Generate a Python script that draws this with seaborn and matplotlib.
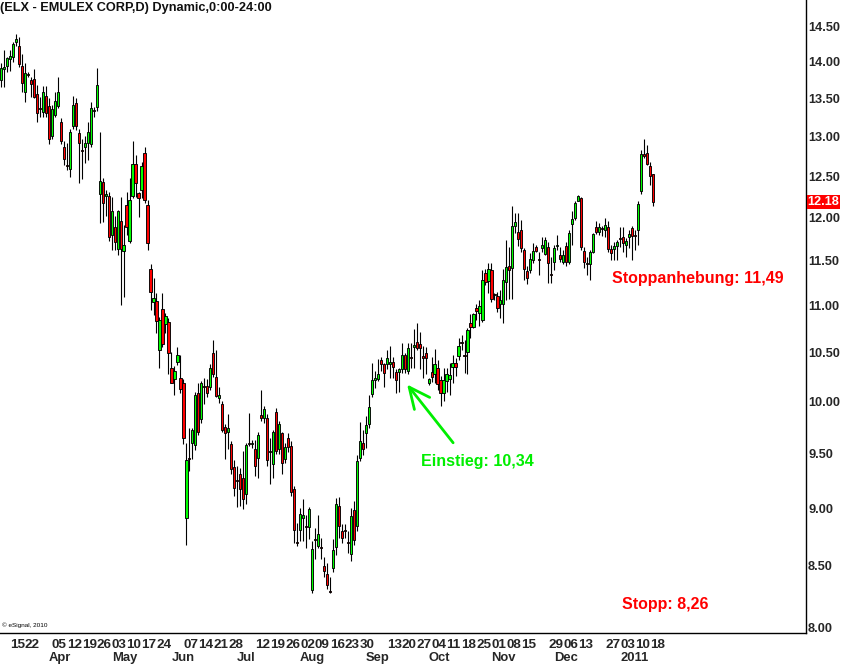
import numpy as np
import pandas as pd
import matplotlib
matplotlib.use("Agg")
import matplotlib.pyplot as plt
from matplotlib.ticker import NullLocator
import seaborn as sns

# -----------------------------
# Data (daily OHLC)
# -----------------------------
start, end = "2010-03-10", "2011-01-19"
holidays = ["2010-04-02", "2010-05-31", "2010-07-05", "2010-09-06",
            "2010-11-25", "2010-12-24", "2011-01-17"]

opens = [
    13.75, 13.89, 13.94, 14.03, 14.06, 14.27, 14.22, 13.94, 13.59, 13.83,
    13.75, 13.76, 13.55, 13.37, 13.32, 13.53, 13.40, 13.01, 13.28, 13.40,
    13.19, 12.87, 12.64, 12.59, 13.14, 13.44, 13.04, 12.82, 12.86, 12.92,
    12.90, 13.34, 13.38, 12.28, 12.42, 12.26, 12.25, 11.79, 11.89, 11.63,
    11.96, 11.61, 12.15, 11.72, 12.26, 12.65, 12.29, 12.33, 12.79, 12.15,
    11.40, 11.04, 11.05, 10.52, 10.96, 10.80, 10.82, 10.34, 10.23, 10.40,
    10.24, 10.18, 8.91, 9.46, 9.60, 9.58, 10.08, 9.83, 10.15, 10.15,
    10.14, 10.49, 10.25, 10.03, 9.98, 9.75, 9.70, 9.59, 9.37, 9.25,
    9.31, 9.27, 9.13, 9.60, 9.59, 9.54, 9.46, 9.87, 9.84, 9.84,
    9.52, 9.40, 9.90, 9.54, 9.69, 9.45, 9.65, 9.57, 9.17, 8.70,
    8.81, 8.91, 8.84, 8.83, 8.30, 8.73, 8.67, 8.66, 8.50, 8.43,
    8.29, 8.48, 8.66, 9.02, 8.80, 8.81, 8.70, 8.60, 8.98, 8.84,
    9.46, 9.60, 9.69, 9.78, 10.07, 10.22, 10.23, 10.42, 10.38, 10.38,
    10.38, 10.40, 10.30, 10.30, 10.33, 10.47, 10.31, 10.45, 10.55, 10.61,
    10.59, 10.46, 10.49, 10.18, 10.30, 10.28, 10.34, 10.22, 10.08, 10.21,
    10.23, 10.35, 10.39, 10.46, 10.61, 10.47, 10.50, 10.81, 10.76, 10.97,
    10.92, 10.84, 11.36, 11.27, 11.39, 11.12, 11.10, 11.01, 11.01, 11.25,
    11.44, 11.41, 11.90, 11.83, 11.85, 11.62, 11.38, 11.39, 11.50, 11.65,
    11.51, 11.64, 11.57, 11.65, 11.34, 11.48, 11.66, 11.56, 11.48, 11.66,
    11.48, 11.92, 11.99, 12.20, 12.23, 11.61, 11.47, 11.46, 11.60, 11.89,
    11.83, 11.87, 11.85, 11.89, 11.63, 11.63, 11.66, 11.76, 11.77, 11.67,
    11.77, 11.87, 11.79, 11.85, 12.31, 12.78, 12.79, 12.63, 12.53,
]
highs = [
    13.98, 14.16, 14.06, 14.16, 14.27, 14.38, 14.34, 14.11, 13.98, 13.86,
    13.79, 13.89, 13.68, 13.52, 13.66, 13.66, 13.50, 13.41, 13.58, 13.79,
    13.24, 12.94, 12.92, 13.09, 13.53, 13.50, 13.09, 12.96, 13.00, 13.19,
    13.45, 13.38, 13.91, 13.06, 12.48, 12.33, 12.30, 12.24, 12.01, 12.09,
    12.24, 11.91, 12.30, 12.48, 12.94, 12.76, 12.30, 12.68, 12.86, 12.21,
    11.46, 11.30, 11.13, 10.87, 11.13, 10.92, 10.86, 10.50, 10.36, 10.55,
    10.47, 10.23, 9.60, 9.74, 9.74, 10.09, 10.18, 10.21, 10.24, 10.23,
    10.38, 10.63, 10.52, 10.14, 10.01, 9.78, 9.88, 9.62, 9.44, 9.38,
    9.36, 9.52, 9.60, 9.89, 9.63, 9.63, 9.70, 10.11, 9.96, 9.88,
    9.65, 9.72, 9.94, 9.81, 9.70, 9.60, 9.69, 9.62, 9.20, 8.87,
    9.00, 9.08, 8.94, 9.01, 8.71, 8.82, 8.94, 8.74, 8.57, 8.52,
    8.41, 8.73, 9.09, 9.10, 8.86, 8.86, 8.80, 9.00, 9.06, 9.48,
    9.80, 9.72, 9.86, 10.06, 10.39, 10.31, 10.43, 10.45, 10.39, 10.52,
    10.57, 10.45, 10.33, 10.34, 10.60, 10.49, 10.60, 10.60, 10.74, 10.81,
    10.71, 10.57, 10.55, 10.24, 10.45, 10.53, 10.42, 10.26, 10.34, 10.34,
    10.39, 10.47, 10.44, 10.65, 10.68, 10.63, 10.75, 10.91, 10.92, 11.01,
    11.06, 11.39, 11.40, 11.47, 11.47, 11.13, 11.14, 11.17, 11.40, 11.73,
    11.65, 12.14, 12.05, 12.05, 11.97, 11.64, 11.44, 11.58, 11.70, 11.67,
    11.59, 11.77, 11.77, 11.71, 11.54, 11.67, 11.79, 11.65, 11.62, 11.71,
    11.85, 12.07, 12.19, 12.27, 12.24, 11.65, 11.54, 11.62, 11.81, 11.95,
    11.93, 11.90, 11.99, 11.95, 11.67, 11.71, 11.73, 11.89, 11.89, 11.76,
    11.85, 11.90, 11.85, 12.19, 12.83, 12.96, 12.89, 12.68, 12.53,
]
lows = [
    13.65, 13.65, 13.85, 13.87, 13.99, 14.21, 13.92, 13.58, 13.45, 13.79,
    13.52, 13.50, 13.19, 13.25, 13.25, 13.25, 12.90, 12.96, 13.25, 13.37,
    12.90, 12.64, 12.58, 12.49, 13.09, 13.08, 12.41, 12.46, 12.66, 12.70,
    12.86, 13.25, 13.33, 11.93, 11.94, 12.01, 11.72, 11.62, 11.62, 11.56,
    11.00, 11.09, 11.79, 11.70, 12.23, 12.24, 12.00, 12.23, 12.17, 11.62,
    10.95, 10.89, 10.70, 10.34, 10.55, 10.70, 10.28, 10.18, 10.06, 10.37,
    10.08, 9.59, 8.68, 9.34, 9.45, 9.53, 9.67, 9.79, 9.98, 10.04,
    10.11, 10.25, 10.04, 9.99, 9.70, 9.45, 9.54, 9.31, 9.11, 9.01,
    9.02, 8.99, 9.04, 9.57, 9.55, 9.29, 9.27, 9.81, 9.79, 9.38,
    9.22, 9.27, 9.49, 9.49, 9.31, 9.41, 9.51, 9.11, 8.69, 8.67,
    8.71, 8.71, 8.65, 8.73, 8.27, 8.56, 8.65, 8.56, 8.41, 8.31,
    8.27, 8.45, 8.59, 8.74, 8.69, 8.74, 8.61, 8.54, 8.68, 8.80,
    9.43, 9.48, 9.55, 9.74, 10.04, 10.13, 10.21, 10.31, 10.14, 10.33,
    10.24, 10.24, 10.08, 10.09, 10.29, 10.29, 10.28, 10.34, 10.34, 10.52,
    10.33, 10.24, 10.28, 10.16, 10.20, 10.18, 10.11, 9.96, 10.01, 10.09,
    10.06, 10.18, 10.26, 10.42, 10.52, 10.29, 10.28, 10.65, 10.75, 10.84,
    10.78, 10.82, 11.22, 11.13, 11.04, 11.06, 10.93, 10.86, 10.81, 11.06,
    11.07, 11.07, 11.82, 11.66, 11.60, 11.28, 11.23, 11.36, 11.47, 11.59,
    11.33, 11.59, 11.56, 11.24, 11.24, 11.39, 11.62, 11.48, 11.46, 11.44,
    11.46, 11.67, 11.97, 12.19, 11.62, 11.41, 11.33, 11.28, 11.58, 11.80,
    11.79, 11.78, 11.77, 11.60, 11.50, 11.50, 11.50, 11.65, 11.60, 11.54,
    11.64, 11.50, 11.62, 11.67, 12.28, 12.73, 12.64, 12.39, 12.13,
]
closes = [
    13.91, 13.92, 14.05, 14.07, 14.25, 14.31, 13.96, 13.71, 13.84, 13.82,
    13.69, 13.52, 13.31, 13.36, 13.59, 13.31, 12.96, 13.36, 13.46, 13.59,
    12.94, 12.71, 12.63, 13.06, 13.41, 13.13, 12.91, 12.81, 12.92, 13.06,
    13.37, 13.33, 13.68, 12.44, 12.17, 12.28, 11.77, 12.07, 11.71, 12.07,
    11.63, 11.67, 11.89, 12.21, 12.65, 12.41, 12.23, 12.63, 12.21, 11.70,
    11.14, 11.08, 10.83, 10.84, 10.59, 10.88, 10.49, 10.19, 10.31, 10.47,
    10.12, 9.65, 9.44, 9.45, 9.72, 10.06, 9.70, 10.18, 10.14, 10.08,
    10.34, 10.28, 10.05, 10.06, 9.72, 9.69, 9.74, 9.35, 9.18, 9.24,
    9.17, 9.08, 9.58, 9.59, 9.60, 9.38, 9.67, 9.84, 9.93, 9.44,
    9.51, 9.70, 9.52, 9.78, 9.41, 9.56, 9.56, 9.14, 8.81, 8.69,
    8.95, 8.94, 8.83, 8.99, 8.64, 8.72, 8.77, 8.65, 8.46, 8.34,
    8.28, 8.63, 9.04, 8.84, 8.74, 8.80, 8.69, 8.93, 8.72, 9.43,
    9.62, 9.54, 9.77, 9.95, 10.22, 10.24, 10.28, 10.38, 10.29, 10.44,
    10.40, 10.35, 10.22, 10.33, 10.47, 10.33, 10.54, 10.44, 10.58, 10.54,
    10.54, 10.44, 10.44, 10.23, 10.25, 10.38, 10.17, 10.08, 10.22, 10.28,
    10.27, 10.39, 10.35, 10.57, 10.60, 10.46, 10.73, 10.76, 10.91, 10.94,
    10.99, 11.28, 11.25, 11.40, 11.07, 11.11, 10.97, 11.06, 11.28, 11.42,
    11.39, 11.90, 11.94, 11.75, 11.64, 11.40, 11.30, 11.52, 11.61, 11.61,
    11.50, 11.67, 11.73, 11.47, 11.33, 11.64, 11.68, 11.52, 11.56, 11.48,
    11.82, 11.98, 12.17, 12.25, 11.65, 11.48, 11.46, 11.60, 11.80, 11.83,
    11.89, 11.86, 11.91, 11.63, 11.58, 11.66, 11.71, 11.75, 11.70, 11.72,
    11.80, 11.78, 11.78, 12.16, 12.78, 12.75, 12.65, 12.50, 12.18,
]

# axis labels
day_ticks = ["2010-03-15", "2010-03-22", "2010-04-05", "2010-04-12", "2010-04-19",
             "2010-04-26", "2010-05-03", "2010-05-10", "2010-05-17", "2010-05-24",
             "2010-06-07", "2010-06-14", "2010-06-21", "2010-06-28", "2010-07-12",
             "2010-07-19", "2010-07-26", "2010-08-02", "2010-08-09", "2010-08-16",
             "2010-08-23", "2010-08-30", "2010-09-13", "2010-09-20", "2010-09-27",
             "2010-10-04", "2010-10-11", "2010-10-18", "2010-10-25", "2010-11-01",
             "2010-11-08", "2010-11-15", "2010-11-29", "2010-12-06", "2010-12-13",
             "2010-12-27", "2011-01-03", "2011-01-10", "2011-01-18"]
month_starts = ["2010-04-01", "2010-05-03", "2010-06-01", "2010-07-01", "2010-08-02",
                "2010-09-01", "2010-10-01", "2010-11-01", "2010-12-01", "2011-01-03"]
month_names = ["Apr", "May", "Jun", "Jul", "Aug", "Sep", "Oct", "Nov", "Dec", "2011"]
price_ticks = [8.0, 8.5, 9.0, 9.5, 10.0, 10.5, 11.0, 11.5, 12.0, 12.5, 13.0, 13.5, 14.0, 14.5]
last_price = 12.18

# -----------------------------
# Build frame
# -----------------------------
days = pd.bdate_range(start, end)
days = days[~days.isin(pd.to_datetime(holidays))]
df = pd.DataFrame({"open": opens, "high": highs, "low": lows, "close": closes})
assert len(df) == len(days), (len(df), len(days))
df["date"] = days
df["idx"] = np.arange(len(df))
pos = pd.Series(df["idx"].values, index=df["date"])

UP, DOWN = "#00ff00", "#ff0000"
up = df["close"] >= df["open"]
body_lo = df[["open", "close"]].min(axis=1)
body_h = (df["close"] - df["open"]).abs().clip(lower=0.004)

# -----------------------------
# Plot
# -----------------------------
sns.set_style("white")
plt.rcParams["font.family"] = ["Liberation Sans", "DejaVu Sans"]

fig = plt.figure(figsize=(8.41, 6.64), dpi=100)
ax = fig.add_axes([0.0, 31 / 664, 806 / 841, 633 / 664])

ax.vlines(df["idx"], df["low"], df["high"], color="black", lw=0.8, zorder=1)
ax.bar(df["idx"], body_h, bottom=body_lo, width=0.74,
       color=np.where(up, UP, DOWN), edgecolor="black", linewidth=0.65, zorder=2)

ax.set_yscale("log")
ax.set_ylim(7.953, 14.878)
ax.set_xlim(-0.334, 269.2)
ax.yaxis.set_minor_locator(NullLocator())
ax.xaxis.set_minor_locator(NullLocator())
ax.set_yticks(price_ticks, [f"{v:.2f}" for v in price_ticks])
ax.yaxis.tick_right()
ax.tick_params(axis="y", length=0, pad=1.5, labelsize=9.2)
for t in ax.get_yticklabels():
    t.set_fontweight("bold")

day_pos = [pos[pd.Timestamp(d)] for d in day_ticks]
ax.set_xticks(day_pos, [pd.Timestamp(d).strftime("%d") for d in day_ticks])
ax.tick_params(axis="x", length=0, pad=4.0, labelsize=9.7)
for t in ax.get_xticklabels():
    t.set_fontweight("bold")
    t.set_ha("left")

for d, name in zip(month_starts, month_names):
    ax.text(pos[pd.Timestamp(d)], -0.0395, name, transform=ax.get_xaxis_transform(),
            ha="left", va="center", fontsize=9.4, fontweight="bold", clip_on=False)

for s in ["left", "top"]:
    ax.spines[s].set_visible(False)
for s in ["right", "bottom"]:
    ax.spines[s].set_color("black")
    ax.spines[s].set_linewidth(1.0)

# last price marker
ax.text(1.0018, last_price, f"{last_price:.2f}", transform=ax.get_yaxis_transform(),
        ha="left", va="center", color="white", fontsize=9.2, fontweight="bold",
        bbox=dict(facecolor="#ff0000", edgecolor="none", pad=0.6), clip_on=False)

# annotations
ax.text(204.3, 11.30, "Stoppanhebung: 11,49", color="#ff0000", fontsize=11.5,
        fontweight="bold", ha="left", va="center")
ax.text(207.6, 8.18, "Stopp: 8,26", color="#ff0000", fontsize=11.5,
        fontweight="bold", ha="left", va="center")
ax.text(140.5, 9.42, "Einstieg: 10,34", color="#00ee00", fontsize=11.5,
        fontweight="bold", ha="left", va="center")
ax.annotate("", xy=(135.8, 10.17), xytext=(151.2, 9.60),
            arrowprops=dict(arrowstyle="->,head_length=1.5,head_width=0.7",
                            color="#00ee00", lw=2, mutation_scale=10,
                            shrinkA=0, shrinkB=0))

fig.text(0.0005, 1 - 8 / 664, "(ELX - EMULEX CORP,D) Dynamic,0:00-24:00",
         ha="left", va="center", fontsize=9.2, fontweight="bold", color="#101010")
fig.text(2 / 841, (664 - 625) / 664, "© eSignal, 2010", ha="left", va="center",
         fontsize=4.6, color="black")

fig.savefig("out.png", dpi=100)
